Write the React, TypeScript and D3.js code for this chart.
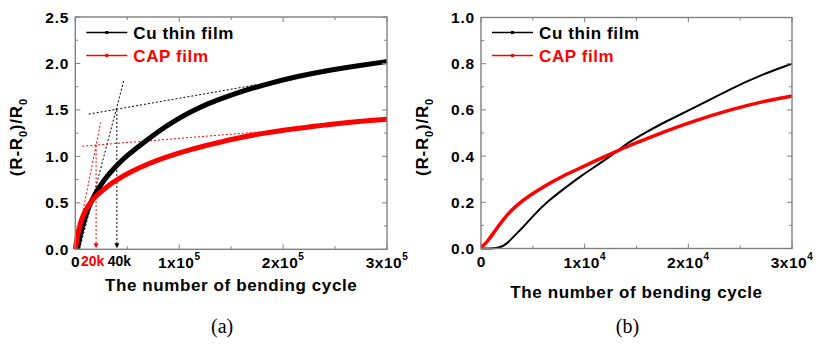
import React from 'react';
import * as d3 from 'd3';

// ---- data (cycles in thousands, value = (R-R0)/R0) ----
const cuA: [number, number][] = [
  [2, 0], [4, 0.12], [6.7, 0.24], [10, 0.36], [13, 0.46], [19.6, 0.61], [25, 0.7], [30.8, 0.79],
  [40.4, 0.91], [50, 1.01], [62.9, 1.125], [78.8, 1.26], [95, 1.38], [111, 1.48], [127, 1.565],
  [150, 1.665], [181, 1.77], [213, 1.86], [245, 1.93], [277, 1.985], [300, 2.02],
];
const capA: [number, number][] = [
  [0, 0], [0.4, 0.03], [1.5, 0.11], [3.6, 0.23], [6, 0.32], [8.4, 0.39], [12, 0.46], [16.3, 0.53],
  [21, 0.585], [27.6, 0.645], [33.6, 0.7], [40.4, 0.75], [50, 0.815], [62.9, 0.885], [78.8, 0.96],
  [95, 1.02], [111, 1.075], [127, 1.12], [150, 1.185], [181, 1.25], [213, 1.3], [245, 1.345],
  [277, 1.38], [300, 1.4],
];
const cuB: [number, number][] = [
  [0, 0], [1.0, 0], [1.8, 0.003], [2.5, 0.02], [3.1, 0.05], [4.1, 0.094], [5.0, 0.14], [6.3, 0.2],
  [7.9, 0.255], [9.5, 0.31], [11.2, 0.36], [12.8, 0.41], [14.4, 0.465], [16, 0.505], [17.6, 0.545],
  [20.8, 0.614], [24, 0.69], [27.2, 0.755], [30, 0.8],
];
const capB: [number, number][] = [
  [0, 0.005], [0.3, 0.015], [0.6, 0.03], [1.2, 0.066], [1.8, 0.105], [2.5, 0.145], [3.45, 0.188],
  [4.7, 0.23], [6.3, 0.275], [7.9, 0.314], [9.5, 0.347], [11.2, 0.383], [12.8, 0.415], [14.4, 0.448],
  [16, 0.475], [17.6, 0.505], [20.8, 0.556], [24, 0.6], [27.2, 0.637], [30, 0.66],
];

// guide lines in panel (a)
const blackGuides: [number, number][][] = [
  [[4, 0], [47, 1.83]],
  [[13, 1.455], [174, 1.77]],
  [[40, 1.5], [40, 0.03]],
];
const redGuides: [number, number][][] = [
  [[0, 0], [24.4, 1.365]],
  [[6.7, 1.11], [185, 1.27]],
  [[20, 1.12], [20, 0.03]],
];
const markLabels = [
  { k: 20, text: '20k', color: '#ff0000' },
  { k: 40, text: '40k', color: '#000' },
];

const xTicksA = [0, 100, 200, 300];
const xTicksB = [0, 10, 20, 30];
const yTicksA = [0, 0.5, 1.0, 1.5, 2.0, 2.5];
const yTicksB = [0, 0.2, 0.4, 0.6, 0.8, 1.0];
const legendNames = ['Cu thin film', 'CAP film'];

const FONT = '"Liberation Sans", Arial, sans-serif';
const GREY = '#808080';

type Scale = d3.ScaleLinear<number, number>;
type PanelProps = {
  left: number; right: number; top: number; bottom: number;
  xMax: number; yMax: number; xTicks: number[]; yTicks: number[];
  xMinor: number; yMinor: number; exp: number;
  series: { data: [number, number][]; color: string; width: number }[];
  titleY: number; label: string;
  guides?: (x: Scale, y: Scale) => React.ReactNode;
};

const Panel = (p: PanelProps) => {
  const x = d3.scaleLinear().domain([0, p.xMax]).range([p.left, p.right]);
  const y = d3.scaleLinear().domain([0, p.yMax]).range([p.bottom, p.top]);
  const line = d3.line<[number, number]>().x(d => x(d[0])).y(d => y(d[1])).curve(d3.curveBasis);
  const xMinorT = d3.range(0, p.xMax + 1e-9, p.xMinor);
  const yMinorT = d3.range(0, p.yMax + 1e-9, p.yMinor);
  const isMajX = (v: number) => p.xTicks.some(t => Math.abs(t - v) < 1e-6);
  const isMajY = (v: number) => p.yTicks.some(t => Math.abs(t - v) < 1e-6);
  const cx = (p.left + p.right) / 2;
  return (
    <g>
      {p.guides ? p.guides(x, y) : null}
      {p.series.map((s, i) => (
        <path key={i} d={line(s.data) || ''} fill="none" stroke={s.color} strokeWidth={s.width}
          strokeLinejoin="round" />
      ))}
      {/* frame */}
      <rect x={p.left} y={p.top} width={p.right - p.left} height={p.bottom - p.top}
        fill="none" stroke={GREY} strokeWidth={1.4} />
      {xMinorT.map((v, i) => {
        const len = isMajX(v) ? 5 : 3;
        return (
          <g key={'xt' + i} stroke={GREY} strokeWidth={1}>
            <line x1={x(v)} x2={x(v)} y1={p.bottom} y2={p.bottom - len} />
            <line x1={x(v)} x2={x(v)} y1={p.top} y2={p.top + len} />
          </g>
        );
      })}
      {yMinorT.map((v, i) => {
        const len = isMajY(v) ? 5 : 3;
        return (
          <g key={'yt' + i} stroke={GREY} strokeWidth={1}>
            <line x1={p.left} x2={p.left + len} y1={y(v)} y2={y(v)} />
            <line x1={p.right} x2={p.right - len} y1={y(v)} y2={y(v)} />
          </g>
        );
      })}
      {/* y tick labels */}
      {p.yTicks.map((v, i) => (
        <text key={'yl' + i} x={p.left - 6} y={y(v) + 5.5} textAnchor="end" fontFamily={FONT}
          fontWeight="bold" fontSize={15.5} letterSpacing={0.8}>{v.toFixed(1)}</text>
      ))}
      {/* x tick labels */}
      {p.xTicks.map((v, i) => (
        v === 0 ? (
          <text key={'xl' + i} x={x(v)} y={267} textAnchor="middle" fontFamily={FONT}
            fontWeight="bold" fontSize={15.5}>0</text>
        ) : (
          <text key={'xl' + i} x={x(v)} y={268} textAnchor="middle" fontFamily={FONT}
            fontWeight="bold" fontSize={15.5} letterSpacing={0.5}>
            {`${Math.round(v / (p.xMax / 3))}x10`}
            <tspan dy={-8} fontSize={10}>{p.exp}</tspan>
          </text>
        )
      ))}
      {/* axis titles */}
      <text x={cx} y={p.titleY} textAnchor="middle" fontFamily={FONT} fontWeight="bold"
        fontSize={17} letterSpacing={0.6}>The number of bending cycle</text>
      <text transform={`translate(${p.left - 53},${(p.top + p.bottom) / 2 + 4}) rotate(-90)`}
        textAnchor="middle" fontFamily={FONT} fontWeight="bold" fontSize={17} letterSpacing={0.8}>
        (R-R<tspan dy={5} fontSize={11}>0</tspan><tspan dy={-5}>)/R</tspan>
        <tspan dy={5} fontSize={11}>0</tspan>
      </text>
      <text x={cx - 9} y={333} textAnchor="middle" fontFamily='"Liberation Serif", "Times New Roman", serif'
        fontSize={20}>({p.label})</text>
      {/* legend */}
      {legendNames.map((name, i) => {
        const color = i === 0 ? '#000' : '#ff0000';
        const ly = 32.5 + i * 23;
        const lx = p.left + 11;
        return (
          <g key={'lg' + i}>
            <line x1={lx} x2={lx + 41} y1={ly} y2={ly} stroke={color} strokeWidth={1.5} />
            <rect x={lx + 19} y={ly - 1.5} width={3} height={3} fill={color} />
            <text x={lx + 47} y={ly + 6} fontFamily={FONT} fontWeight="bold" fontSize={17}
              letterSpacing={0.6} fill={color}>{name}</text>
          </g>
        );
      })}
    </g>
  );
};

const guidesA = (x: Scale, y: Scale) => {
  const seg = (g: [number, number][], color: string, key: string) => (
    <line key={key} x1={x(g[0][0])} y1={y(g[0][1])} x2={x(g[1][0])} y2={y(g[1][1])}
      stroke={color} strokeWidth={1} strokeDasharray="2,2" />
  );
  return (
    <g>
      {blackGuides.map((g, i) => seg(g, '#000', 'b' + i))}
      {redGuides.map((g, i) => seg(g, '#ff0000', 'r' + i))}
      {markLabels.map((m, i) => {
        const px = x(m.k);
        const py = y(0) - 1;
        return (
          <g key={'m' + i}>
            <path d={`M${px - 2.5},${py - 5}L${px + 2.5},${py - 5}L${px},${py}Z`} fill={m.color} />
            <text x={px + (i === 0 ? -3.5 : 2.5)} y={266} textAnchor="middle" fontFamily={FONT}
              fontWeight="bold" fontSize={14} fill={m.color}>{m.text}</text>
          </g>
        );
      })}
    </g>
  );
};

export default function App() {
  return (
    <svg width={816} height={345} style={{ position: 'absolute', left: 0, top: 0, background: '#fff' }}>
      <rect width={816} height={345} fill="#fff" />
      <Panel left={75.3} right={387} top={17} bottom={249.3} xMax={300} yMax={2.5}
        xTicks={xTicksA} yTicks={yTicksA} xMinor={50} yMinor={0.25} exp={5}
        series={[{ data: cuA, color: '#000', width: 5 }, { data: capA, color: '#ff0000', width: 5 }]}
        titleY={291} label="a" guides={guidesA} />
      <Panel left={481} right={792} top={17.5} bottom={248.5} xMax={30} yMax={1.0}
        xTicks={xTicksB} yTicks={yTicksB} xMinor={5} yMinor={0.1} exp={4}
        series={[{ data: cuB, color: '#000', width: 2 }, { data: capB, color: '#ff0000', width: 3.5 }]}
        titleY={298} label="b" />
    </svg>
  );
}
